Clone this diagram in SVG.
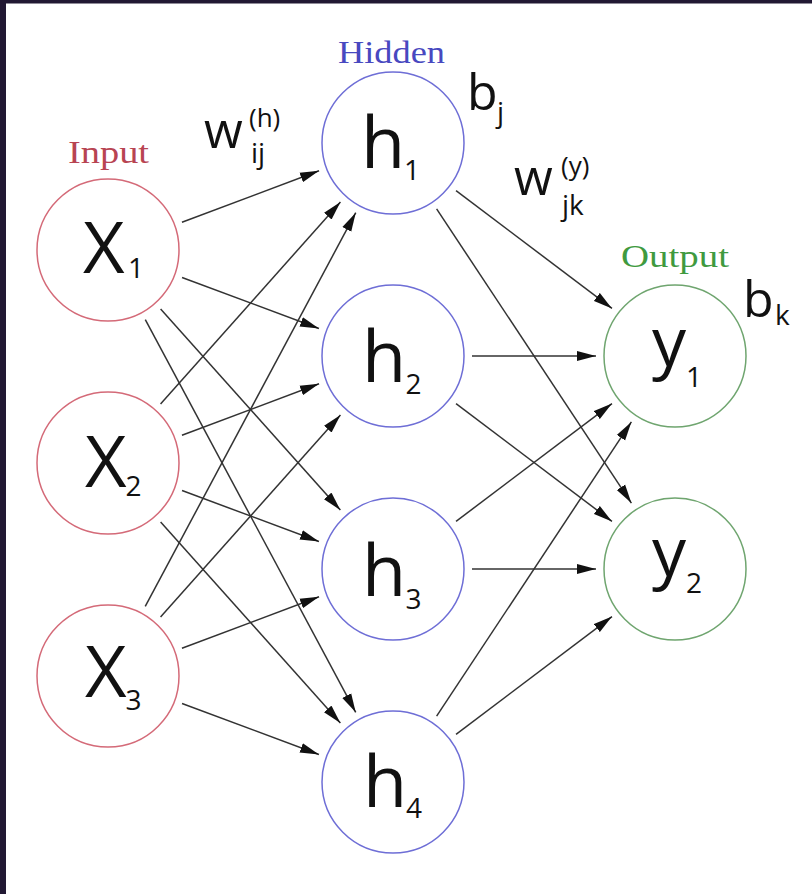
<svg xmlns="http://www.w3.org/2000/svg" width="812" height="894" viewBox="0 0 812 894">
<style>
.node circle{fill:#fff;stroke-width:1.5}
.in circle{stroke:#d46a78}
.hid circle{stroke:#6e6ed6}
.out circle{stroke:#6fa56f}
.lbl{font-family:"Open Sans","Liberation Sans",sans-serif;fill:#111}
.big{font-size:72px}
.yy{font-size:68px}
.sub{font-size:28px}
.sup{font-size:26px}
.mid{font-size:50px}
.layer{font-family:"Liberation Serif",serif;font-size:32px}
.conn line{stroke:#333;stroke-width:1.5;fill:none;marker-end:url(#ah)}
</style>
<defs>
<marker id="ah" markerUnits="userSpaceOnUse" markerWidth="19" markerHeight="11" viewBox="0 0 19 11" refX="19" refY="5.5" orient="auto">
<path d="M0,0.5 L19,5.5 L0,10.5 Z" fill="#111"/>
</marker>
</defs>
<rect x="0" y="0" width="812" height="894" fill="#fff"/>
<rect x="0" y="0" width="812" height="3.5" fill="#211833"/>
<rect x="0" y="0" width="6" height="894" fill="#211833"/>

<g id="connectors" class="conn">
<line x1="181.96" y1="222.23" x2="319.04" y2="170.77"/>
<line x1="182.04" y1="277.54" x2="318.96" y2="328.46"/>
<line x1="160.63" y1="308.91" x2="340.37" y2="510.09"/>
<line x1="145.30" y1="319.64" x2="355.70" y2="712.36"/>
<line x1="160.54" y1="404.00" x2="340.46" y2="202.00"/>
<line x1="181.96" y1="435.23" x2="319.04" y2="383.77"/>
<line x1="182.04" y1="490.54" x2="318.96" y2="541.46"/>
<line x1="160.63" y1="521.91" x2="340.37" y2="723.09"/>
<line x1="145.25" y1="606.34" x2="355.75" y2="212.66"/>
<line x1="160.54" y1="617.00" x2="340.46" y2="415.00"/>
<line x1="181.96" y1="648.23" x2="319.04" y2="596.77"/>
<line x1="182.04" y1="703.54" x2="318.96" y2="754.46"/>
<line x1="456.04" y1="190.61" x2="611.96" y2="308.39"/>
<line x1="436.61" y1="208.88" x2="631.39" y2="503.12"/>
<line x1="472" y1="356" x2="596" y2="356"/>
<line x1="456.04" y1="403.61" x2="611.96" y2="521.39"/>
<line x1="456.04" y1="521.39" x2="611.96" y2="403.61"/>
<line x1="472" y1="569" x2="596" y2="569"/>
<line x1="436.61" y1="716.12" x2="631.39" y2="421.88"/>
<line x1="456.04" y1="734.39" x2="611.96" y2="616.61"/>
</g>

<g id="node-x1" class="node in">
<circle cx="108" cy="250" r="71"/>
<text class="lbl big" x="83" y="273">X</text><text class="lbl sub" x="128" y="278">1</text>
</g>
<g id="node-x2" class="node in">
<circle cx="108" cy="463" r="71"/>
<text class="lbl big" x="85" y="487">X</text><text class="lbl sub" x="125.5" y="496">2</text>
</g>
<g id="node-x3" class="node in">
<circle cx="108" cy="676" r="71"/>
<text class="lbl big" x="85" y="697">X</text><text class="lbl sub" x="125.5" y="710">3</text>
</g>

<g id="node-h1" class="node hid">
<circle cx="393" cy="143" r="71"/>
<text class="lbl big" x="361" y="168">h</text><text class="lbl sub" x="404" y="180">1</text>
</g>
<g id="node-h2" class="node hid">
<circle cx="393" cy="356" r="71"/>
<text class="lbl big" x="362" y="382">h</text><text class="lbl sub" x="405.5" y="394">2</text>
</g>
<g id="node-h3" class="node hid">
<circle cx="393" cy="569" r="71"/>
<text class="lbl big" x="362" y="596">h</text><text class="lbl sub" x="405.5" y="609">3</text>
</g>
<g id="node-h4" class="node hid">
<circle cx="393" cy="782" r="71"/>
<text class="lbl big" x="363" y="807">h</text><text class="lbl sub" x="406" y="818">4</text>
</g>

<g id="node-y1" class="node out">
<circle cx="675" cy="356" r="71"/>
<text class="lbl yy" x="652" y="366">y</text><text class="lbl sub" x="686" y="387">1</text>
</g>
<g id="node-y2" class="node out">
<circle cx="675" cy="569" r="71"/>
<text class="lbl yy" x="652" y="576">y</text><text class="lbl sub" x="686" y="593">2</text>
</g>

<g id="labels">
<text class="layer" x="68" y="163" fill="#b84452" textLength="81" lengthAdjust="spacingAndGlyphs">Input</text>
<text class="layer" x="338" y="63" fill="#4848c0" textLength="107" lengthAdjust="spacingAndGlyphs">Hidden</text>
<text class="layer" x="621" y="267" fill="#3f9a3f" textLength="108" lengthAdjust="spacingAndGlyphs">Output</text>
<text class="lbl mid" x="204" y="148">w</text><text class="lbl sup" x="249" y="127">(h)</text><text class="lbl sub" x="251" y="163">ij</text>
<text class="lbl mid" x="467" y="110">b</text><text class="lbl sub" x="497" y="122">j</text>
<text class="lbl mid" x="514" y="195">w</text><text class="lbl sup" x="561" y="175">(y)</text><text class="lbl sub" x="562" y="215">jk</text>
<text class="lbl mid" x="743" y="317">b</text><text class="lbl sub" x="775" y="325">k</text>
</g>
</svg>
